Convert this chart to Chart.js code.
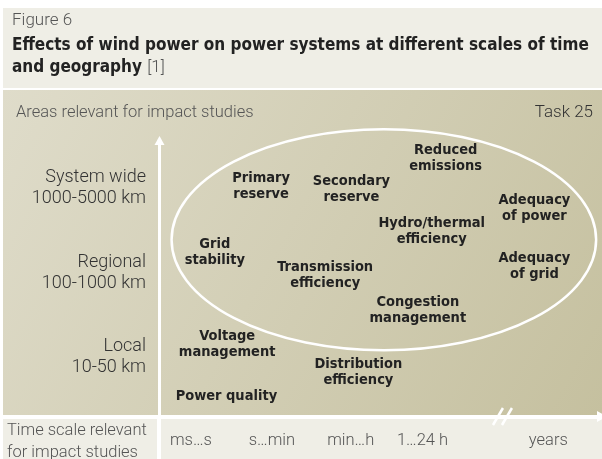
<!DOCTYPE html>
<html>
<head>
<meta charset="utf-8">
<script src="https://cdn.jsdelivr.net/npm/chart.js@4"></script>
<style>
  html, body { margin: 0; padding: 0; background: #fff; }
  #wrap { position: relative; width: 602px; height: 459px; overflow: hidden; }
  #chart { position: absolute; left: 0; top: 0; }
  #head { position: absolute; left: 12px; top: 8px; width: 590px; }
  #head .fig { font: 300 17px Roboto, sans-serif; color: #555; line-height: 20px; margin-top: 1px; }
  #head .title { font: bold 17px "DejaVu Sans Condensed", sans-serif; color: #222; line-height: 22px; margin-top: 4px; }
  #head .title span { font: 300 17px Roboto, sans-serif; color: #555; }
</style>
</head>
<body>
<div id="wrap">
  <canvas id="chart" width="602" height="459"></canvas>
  <div id="head">
    <div class="fig">Figure 6</div>
    <div class="title">Effects of wind power on power systems at different scales of time<br>and geography <span>[1]</span></div>
  </div>
</div>
<script>
// impact areas, placed by time scale (x) and geographical scale (y)
const impactAreas = [
    ['Primary', 'reserve'],
    ['Secondary', 'reserve'],
    ['Reduced', 'emissions'],
    ['Adequacy', 'of power'],
    ['Hydro/thermal', 'efficiency'],
    ['Grid', 'stability'],
    ['Transmission', 'efficiency'],
    ['Adequacy', 'of grid'],
    ['Congestion', 'management'],
    ['Voltage', 'management'],
    ['Distribution', 'efficiency'],
    ['Power quality']
];
const timePos = [0.91, 2.08, 3.30, 4.45, 3.12, 0.31, 1.74, 4.45, 2.94, 0.47, 2.17, 0.46];
const geoPos = [2.02, 1.99, 2.36, 1.76, 1.49, 1.24, 0.97, 1.07, 0.56, 0.15, -0.18, -0.47];

const timeTicks = [0, 1.05, 2.07, 3, 4.63];
const timeLabels = ['ms\u2026s', 's\u2026min', 'min\u2026h', '1\u202624 h', 'years'];
const geoTicks = [0, 1, 2];
const geoLabels = [['Local', '10-50 km'], ['Regional', '100-1000 km'], ['System wide', '1000-5000 km']];

// system-wide area: centre x, centre y, radius x, radius y (data units)
const systemArea = [2.50, 1.39, 2.75, 1.31];
const axisBreak = 4.03;

const points = timePos.map((x, i) => ({ x: x, y: geoPos[i] }));

const backdrop = {
    id: 'backdrop',
    beforeDraw(chart) {
        const ctx = chart.ctx;
        const area = chart.chartArea;
        ctx.save();
        ctx.fillStyle = '#ffffff';
        ctx.fillRect(0, 0, chart.width, chart.height);
        ctx.fillStyle = '#efeee6';
        ctx.fillRect(3, 8, 599, 80);
        const grad = ctx.createLinearGradient(3, 90, 602, 415);
        grad.addColorStop(0, '#dfdcca');
        grad.addColorStop(1, '#c5c09f');
        ctx.fillStyle = grad;
        ctx.fillRect(3, 90, 599, area.bottom - 91);
        ctx.fillStyle = '#efeee6';
        ctx.fillRect(3, area.bottom + 3, area.left - 6, 60);
        ctx.fillRect(area.left + 1, area.bottom + 3, chart.width, 60);

        ctx.fillStyle = '#555';
        ctx.font = '300 16.5px Roboto, sans-serif';
        ctx.textBaseline = 'middle';
        ctx.textAlign = 'left';
        ctx.fillText('Areas relevant for impact studies', 16, 113);
        ctx.fillText('Time scale relevant', 7, 431);
        ctx.fillText('for impact studies', 7, 453);
        ctx.fillStyle = '#333';
        ctx.font = '300 17px Roboto, sans-serif';
        ctx.textAlign = 'right';
        ctx.fillText('Task 25', 593, 113);
        ctx.restore();
    },
    afterDraw(chart) {
        const ctx = chart.ctx;
        const area = chart.chartArea;
        const x = chart.scales.x;
        ctx.save();
        ctx.fillStyle = '#ffffff';
        ctx.strokeStyle = '#ffffff';
        // vertical axis with arrow
        ctx.fillRect(area.left - 2, area.top + 6, 3, chart.height);
        ctx.beginPath();
        ctx.moveTo(area.left - 0.5, area.top);
        ctx.lineTo(area.left - 5.5, area.top + 9);
        ctx.lineTo(area.left + 4.5, area.top + 9);
        ctx.closePath();
        ctx.fill();
        // horizontal axis with arrow
        ctx.fillRect(3, area.bottom - 1, chart.width, 3);
        ctx.beginPath();
        ctx.moveTo(chart.width + 5, area.bottom + 0.5);
        ctx.lineTo(chart.width - 5, area.bottom - 5);
        ctx.lineTo(chart.width - 5, area.bottom + 6);
        ctx.closePath();
        ctx.fill();
        // axis break
        const bx = x.getPixelForValue(axisBreak);
        ctx.lineWidth = 2.5;
        [-5, 4].forEach(off => {
            ctx.beginPath();
            ctx.moveTo(bx + off - 4, area.bottom + 9);
            ctx.lineTo(bx + off + 6, area.bottom - 8);
            ctx.stroke();
        });
        ctx.restore();
    }
};

const areaLabels = {
    id: 'areaLabels',
    beforeDatasetsDraw(chart) {
        const ctx = chart.ctx;
        const x = chart.scales.x;
        const y = chart.scales.y;
        const cx = x.getPixelForValue(systemArea[0]);
        const cy = y.getPixelForValue(systemArea[1]);
        const rx = x.getPixelForValue(systemArea[0] + systemArea[2]) - cx;
        const ry = cy - y.getPixelForValue(systemArea[1] + systemArea[3]);
        ctx.save();
        ctx.strokeStyle = '#ffffff';
        ctx.lineWidth = 2.5;
        ctx.beginPath();
        ctx.ellipse(cx, cy, rx, ry, 0, 0, Math.PI * 2);
        ctx.stroke();
        ctx.restore();
    },
    afterDatasetsDraw(chart) {
        const ctx = chart.ctx;
        const meta = chart.getDatasetMeta(0);
        ctx.save();
        ctx.fillStyle = '#222';
        ctx.font = 'bold 14.5px "DejaVu Sans Condensed", sans-serif';
        ctx.textAlign = 'center';
        ctx.textBaseline = 'middle';
        meta.data.forEach((pt, i) => {
            const lines = impactAreas[i];
            lines.forEach((line, k) => {
                ctx.fillText(line, pt.x, pt.y - (lines.length - 1) * 8 + k * 16);
            });
        });
        ctx.restore();
    }
};

new Chart(document.getElementById('chart'), {
    type: 'scatter',
    data: {
        datasets: [{
            data: points,
            pointRadius: 0,
            pointHoverRadius: 0
        }]
    },
    options: {
        responsive: false,
        animation: false,
        devicePixelRatio: 1,
        events: [],
        layout: { padding: { top: 136, right: 2, left: 0, bottom: 0 } },
        plugins: {
            legend: { display: false },
            tooltip: { enabled: false }
        },
        scales: {
            x: {
                type: 'linear',
                min: -0.4,
                max: 5.3,
                grid: { display: false, drawTicks: false },
                border: { display: false },
                afterBuildTicks: scale => { scale.ticks = timeTicks.map(v => ({ value: v })); },
                afterFit: scale => { scale.height = 43; },
                ticks: {
                    autoSkip: false,
                    maxRotation: 0,
                    padding: 15,
                    color: '#555',
                    font: { family: 'Roboto', size: 16.5, weight: '300' },
                    callback: (v, i) => timeLabels[i]
                }
            },
            y: {
                type: 'linear',
                min: -0.7,
                max: 2.62,
                grid: { display: false, drawTicks: false },
                border: { display: false },
                afterBuildTicks: scale => { scale.ticks = geoTicks.map(v => ({ value: v })); },
                afterFit: scale => { scale.width = 160; },
                ticks: {
                    autoSkip: false,
                    padding: 14,
                    color: '#333',
                    font: { family: 'Roboto', size: 18, weight: '300', lineHeight: 1.17 },
                    callback: (v, i) => geoLabels[i]
                }
            }
        }
    },
    plugins: [backdrop, areaLabels]
});
</script>
</body>
</html>
